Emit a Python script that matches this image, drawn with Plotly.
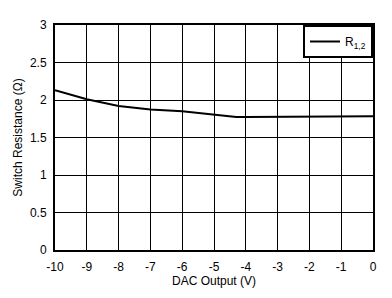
import plotly.graph_objects as go

dac_output = [-10, -9, -8, -7, -6, -5, -4.3, -4, -3, -2, -1, 0]
resistance = [2.13, 2.01, 1.92, 1.875, 1.85, 1.81, 1.775, 1.775, 1.775, 1.775, 1.785, 1.785]
x_ticks = [-10, -9, -8, -7, -6, -5, -4, -3, -2, -1, 0]
x_tick_labels = ["-10", "-9", "-8", "-7", "-6", "-5", "-4", "-3", "-2", "-1", "0"]
y_ticks = [0, 0.5, 1, 1.5, 2, 2.5, 3]
y_tick_labels = ["0", "0.5", "1", "1.5", "2", "2.5", "3"]

FONT = "Liberation Sans, Arial"

fig = go.Figure()
fig.add_trace(go.Scatter(x=dac_output, y=resistance, mode="lines",
                         line=dict(color="black", width=2),
                         name="R<sub>1,2</sub>"))

axis_common = dict(showgrid=True, gridcolor="black", gridwidth=1,
                   showline=True, linecolor="black", linewidth=2, mirror=True,
                   ticks="", zeroline=False,
                   tickfont=dict(family=FONT, size=12, color="black"))

fig.update_layout(
    width=392, height=298,
    margin=dict(l=55, r=19, t=25, b=48),
    paper_bgcolor="white", plot_bgcolor="white",
    font=dict(family=FONT, size=12, color="black"),
    showlegend=True,
    legend=dict(x=1, y=1, xanchor="right", yanchor="top",
                bgcolor="white", bordercolor="black", borderwidth=2,
                font=dict(family=FONT, size=12), tracegroupgap=0,
                itemwidth=30),
    xaxis=dict(range=[-10, 0], tickvals=x_ticks, ticktext=x_tick_labels,
               ticklabelstandoff=5,
               title=dict(text="DAC Output (V)", standoff=0, font=dict(size=12)),
               **axis_common),
    yaxis=dict(range=[0, 3], tickvals=y_ticks, ticktext=y_tick_labels,
               ticklabelstandoff=4,
               title=dict(text="Switch Resistance (\u03a9)", standoff=5, font=dict(size=12)),
               **axis_common),
)

fig.write_html("out.html")
